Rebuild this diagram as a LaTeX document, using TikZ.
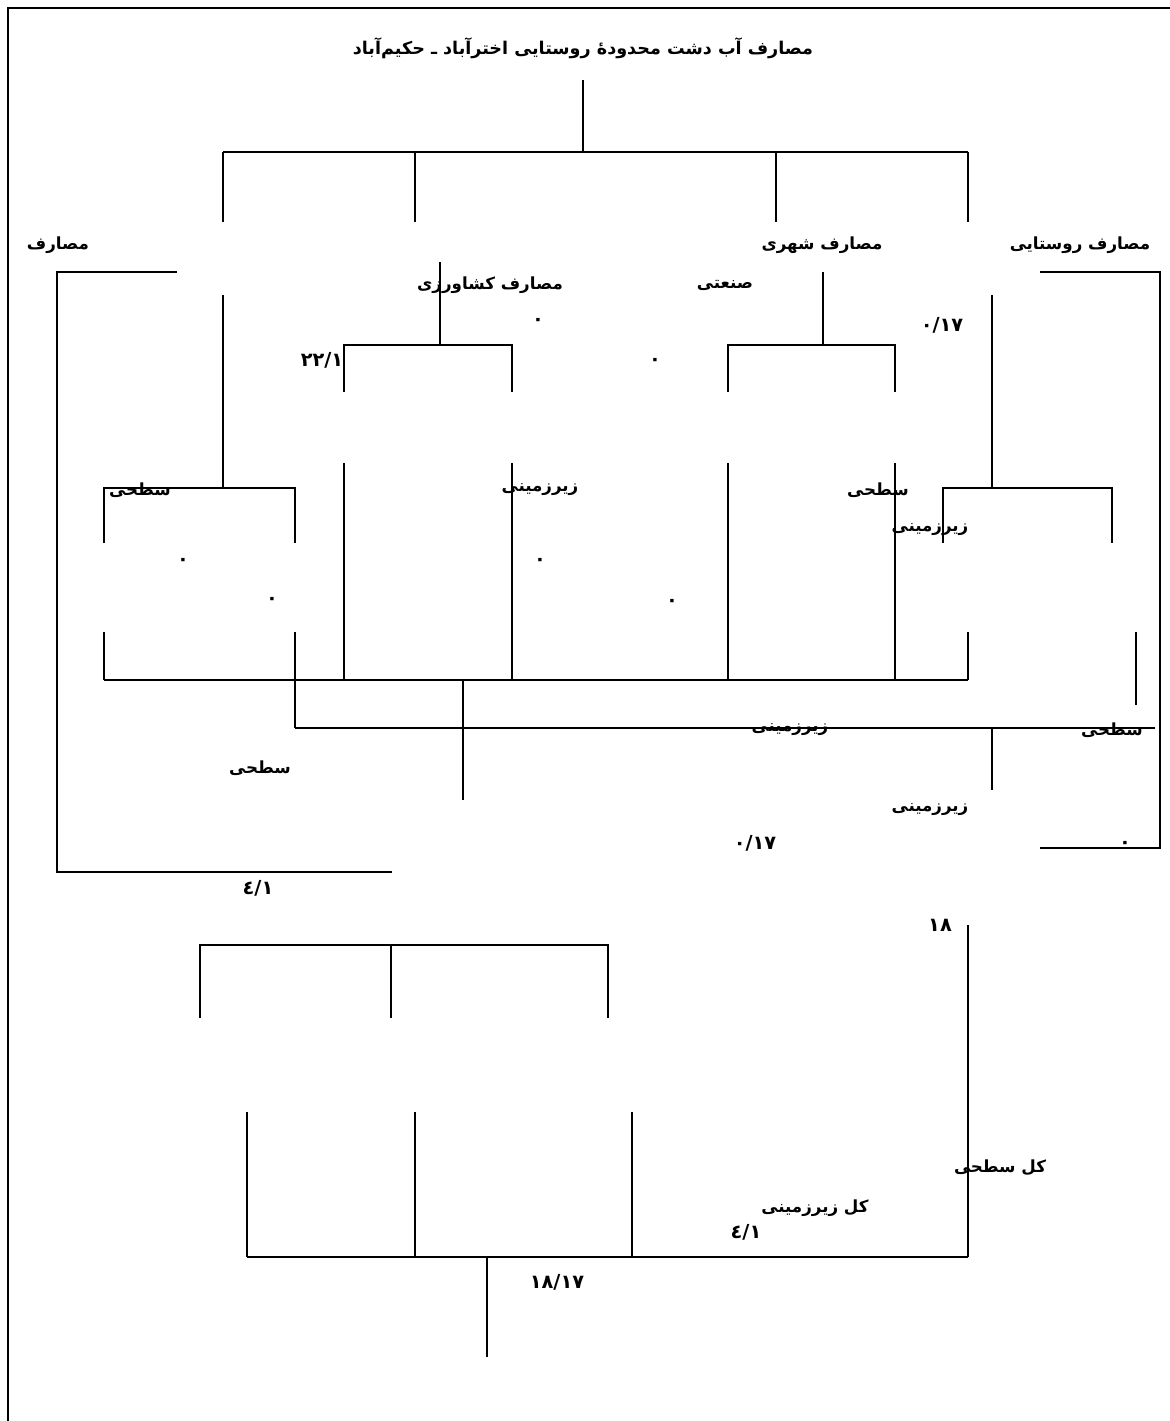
\documentclass[tikz,border=0pt]{standalone}
\usepackage{fontspec}
\TeXXeTstate=1
\newfontfamily\arabicfont[Script=Arabic]{DejaVu Sans}
\begin{document}
\begin{tikzpicture}[x=0.02cm,y=-0.02cm,
  ln/.style={line width=1pt},
  lbl/.style={font=\arabicfont\bfseries\fontsize{9.5}{11}\selectfont, inner sep=0pt},
  ttl/.style={font=\arabicfont\bfseries\fontsize{10}{12}\selectfont, inner sep=0pt},
  num/.style={font=\arabicfont\bfseries\fontsize{11}{13}\selectfont, inner sep=0pt}]
\useasboundingbox (0,0) rectangle (1170,1421);
% frame
\draw[line width=1.6pt] (8,1421) -- (8,8) -- (1170,8);
% title
\node[ttl] (title) at (583,48) {\beginR مصارف آب دشت محدودهٔ روستایی اخترآباد ـ حکیم‌آباد\endR};
% top tree
\draw[ln] (583,80) -- (583,152);
\draw[ln] (223,152) -- (968,152);
\foreach \x in {223,415,776,968} \draw[ln] (\x,152) -- (\x,222);
\node[lbl] (l1) at (58,245) {\beginR مصارف\endR};
\node[lbl] (l2) at (822,245) {\beginR مصارف شهری\endR};
\node[lbl] (l3) at (1080,245) {\beginR مصارف روستایی\endR};
% left big bracket
\draw[ln] (177,272) -- (57,272) -- (57,872) -- (392,872);
% right big bracket
\draw[ln] (1040,272) -- (1160,272) -- (1160,848) -- (1040,848);
% agriculture
\node[lbl] (agr) at (490,285) {\beginR مصارف کشاورزی\endR};
\draw[ln] (440,262) -- (440,345);
\draw[ln] (344,392) -- (344,345) -- (512,345) -- (512,392);
\node[num] (n221) at (322,360) {٢٢/١};
\node[num] (z1) at (538,322) {٠};
% industrial / urban
\node[lbl] (ind) at (725,285) {\beginR صنعتی\endR};
\node[num] (z2) at (655,362) {٠};
\draw[ln] (823,272) -- (823,345);
\draw[ln] (728,392) -- (728,345) -- (895,345) -- (895,392);
\node[num] (n017a) at (942,325) {٠/١٧};
% left sathi bracket
\draw[ln] (223,295) -- (223,488);
\draw[ln] (104,543) -- (104,488) -- (295,488) -- (295,543);
\node[lbl] (s1) at (140,490) {\beginR سطحی\endR};
% right bracket
\draw[ln] (992,295) -- (992,488);
\draw[ln] (943,543) -- (943,488) -- (1112,488) -- (1112,543);
\node[lbl] (zir1) at (540,490) {\beginR زیرزمینی\endR};
\node[lbl] (s2) at (878,490) {\beginR سطحی\endR};
\node[lbl] (zir2) at (930,530) {\beginR زیرزمینی\endR};
% middle verticals
\foreach \x in {344,512,728,895} \draw[ln] (\x,463) -- (\x,680);
\draw[ln] (968,632) -- (968,680);
\draw[ln] (104,632) -- (104,680);
\draw[ln] (295,632) -- (295,728);
\draw[ln] (1136,632) -- (1136,705);
\draw[ln] (104,680) -- (968,680);
\draw[ln] (463,680) -- (463,800);
\draw[ln] (295,728) -- (1155,728);
\draw[ln] (992,728) -- (992,790);
% zeros
\node[num] (z3) at (183,562) {٠};
\node[num] (z4) at (540,562) {٠};
\node[num] (z5) at (272,601) {٠};
\node[num] (z6) at (672,603) {٠};
% lower labels
\node[lbl] (zir3) at (790,730) {\beginR زیرزمینی\endR};
\node[lbl] (s3) at (1112,730) {\beginR سطحی\endR};
\node[lbl] (s4) at (260,768) {\beginR سطحی\endR};
\node[lbl] (zir4) at (930,810) {\beginR زیرزمینی\endR};
\node[num] (n017b) at (755,843) {٠/١٧};
\node[num] (z7) at (1125,845) {٠};
\node[num] (n41a) at (258,888) {٤/١};
% bottom part
\node[num] (n18) at (940,925) {١٨};
\draw[ln] (968,925) -- (968,1257);
\draw[ln] (200,1018) -- (200,945) -- (608,945) -- (608,1018);
\draw[ln] (391,945) -- (391,1018);
\foreach \x in {247,415,632} \draw[ln] (\x,1112) -- (\x,1257);
\draw[ln] (247,1257) -- (968,1257);
\draw[ln] (487,1257) -- (487,1357);
\node[lbl] (ks) at (1000,1168) {\beginR کل سطحی\endR};
\node[lbl] (kz) at (815,1208) {\beginR کل زیرزمینی\endR};
\node[num] (n41b) at (746,1232) {٤/١};
\node[num] (n1817) at (557,1282) {١٨/١٧};
\end{tikzpicture}
\end{document}
